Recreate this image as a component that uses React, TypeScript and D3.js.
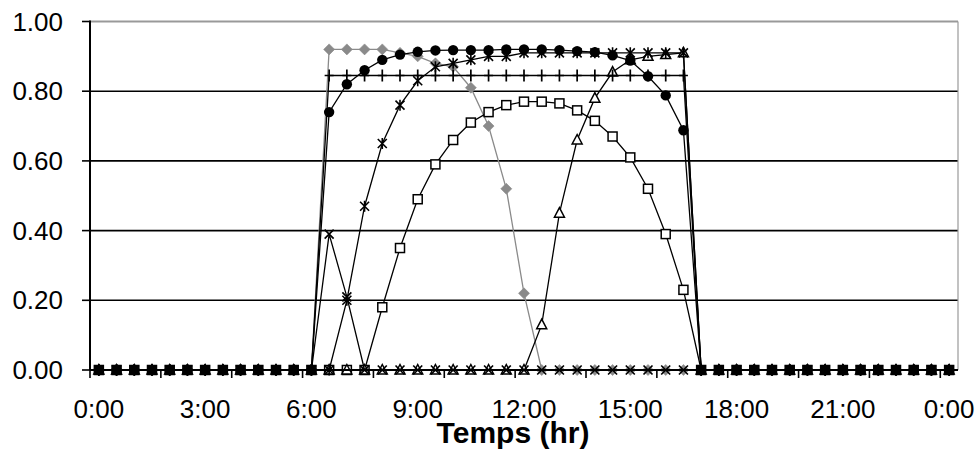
import React from "react";
import * as d3 from "d3";

const W = 980;
const H = 452;

// 49 half-hour categories 0:00 .. 24:00
const categories: string[] = d3.range(49).map((i) => `${Math.floor(i / 2) % 25}:${i % 2 ? "30" : "00"}`);
const tickLabels: { idx: number; label: string }[] = [
  { idx: 0, label: "0:00" },
  { idx: 6, label: "3:00" },
  { idx: 12, label: "6:00" },
  { idx: 18, label: "9:00" },
  { idx: 24, label: "12:00" },
  { idx: 30, label: "15:00" },
  { idx: 36, label: "18:00" },
  { idx: 42, label: "21:00" },
  { idx: 48, label: "0:00" },
];
const yTicks = [0, 0.2, 0.4, 0.6, 0.8, 1.0];

const Z13 = Array(13).fill(0);

const diamondSeries = [
  ...Z13,
  0.92, 0.92, 0.92, 0.92, 0.91, 0.9, 0.88, 0.87, 0.81, 0.7, 0.52, 0.22,
  ...Array(24).fill(0),
];
const squareSeries = [
  ...Array(16).fill(0),
  0.18, 0.35, 0.49, 0.59, 0.66, 0.71, 0.74, 0.76, 0.77, 0.77, 0.765, 0.745, 0.715, 0.67, 0.61, 0.52, 0.39, 0.23,
  ...Array(15).fill(0),
];
const triangleSeries = [
  ...Array(25).fill(0),
  0.13, 0.45, 0.66, 0.78, 0.855, 0.89, 0.9, 0.905, 0.91,
  ...Array(15).fill(0),
];
const xSeries = [...Z13, 0.39, 0.21, ...Array(34).fill(0)];
const starSeries = [
  ...Array(14).fill(0),
  0.2, 0.47, 0.65, 0.76, 0.83, 0.87, 0.88, 0.89, 0.9, 0.9, 0.91, 0.91, 0.91, 0.91, 0.91, 0.91, 0.91, 0.91, 0.91, 0.91,
  ...Array(15).fill(0),
];
const circleSeries = [
  ...Z13,
  0.74, 0.82, 0.86, 0.89, 0.905, 0.913, 0.917, 0.918, 0.918, 0.918, 0.92, 0.92, 0.92, 0.918, 0.915, 0.912, 0.903, 0.888, 0.843, 0.788, 0.688,
  ...Array(15).fill(0),
];
const plusSeries = [...Z13, ...Array(21).fill(0.845), ...Array(15).fill(0)];

type MarkerKind = "diamond" | "square" | "triangle" | "x" | "star" | "circle" | "plus";
const seriesList: { values: number[]; marker: MarkerKind; color: string }[] = [
  { values: diamondSeries, marker: "diamond", color: "#8a8a8a" },
  { values: squareSeries, marker: "square", color: "#000" },
  { values: triangleSeries, marker: "triangle", color: "#000" },
  { values: xSeries, marker: "x", color: "#000" },
  { values: starSeries, marker: "star", color: "#000" },
  { values: circleSeries, marker: "circle", color: "#000" },
  { values: plusSeries, marker: "plus", color: "#000" },
];

const left = 90;
const right = 958;
const top = 21.5;
const bottom = 370;

function Marker({ kind, x, y, color }: { kind: MarkerKind; x: number; y: number; color: string }) {
  switch (kind) {
    case "diamond":
      return <path d={`M${x},${y - 5.5}L${x + 5.5},${y}L${x},${y + 5.5}L${x - 5.5},${y}Z`} fill={color} stroke={color} strokeWidth={0.6} />;
    case "square":
      return <rect x={x - 4.5} y={y - 4.5} width={9} height={9} fill="#fff" stroke={color} strokeWidth={1.5} />;
    case "triangle":
      return <path d={`M${x},${y - 5.5}L${x + 5},${y + 4}L${x - 5},${y + 4}Z`} fill="#fff" stroke={color} strokeWidth={1.5} />;
    case "x":
      return <path d={`M${x - 4.5},${y - 4.5}L${x + 4.5},${y + 4.5}M${x - 4.5},${y + 4.5}L${x + 4.5},${y - 4.5}`} stroke={color} strokeWidth={1.7} />;
    case "star":
      return <path d={`M${x - 4.5},${y - 4.5}L${x + 4.5},${y + 4.5}M${x - 4.5},${y + 4.5}L${x + 4.5},${y - 4.5}M${x},${y - 5.5}L${x},${y + 5.5}`} stroke={color} strokeWidth={1.6} />;
    case "circle":
      return <circle cx={x} cy={y} r={5.2} fill={color} />;
    case "plus":
      return <path d={`M${x},${y - 6}L${x},${y + 6}M${x - 4.5},${y}L${x + 4.5},${y}`} stroke={color} strokeWidth={1.7} />;
  }
}

export default function App() {
  const xBand = d3.scaleBand<number>().domain(d3.range(categories.length)).range([left, right]).padding(0);
  const bw = xBand.bandwidth();
  const cx = (i: number) => (xBand(i) as number) + bw / 2;
  const y = d3.scaleLinear().domain([0, 1]).range([bottom, top]);
  const line = d3
    .line<number>()
    .x((_, i) => cx(i))
    .y((d) => y(d));

  const tickIdx = d3.range(0, categories.length, 4);
  const font = "'Liberation Sans', Arial, sans-serif";

  return (
    <svg width={W} height={H} style={{ position: "absolute", left: 0, top: 0, background: "#fff" }}>
      <rect x={0} y={0} width={W} height={H} fill="#fff" />
      {/* gridlines */}
      {yTicks.filter((t) => t > 0 && t < 1).map((t) => (
        <line key={t} x1={left} x2={right} y1={y(t)} y2={y(t)} stroke="#000" strokeWidth={1.6} />
      ))}
      {/* plot border top/right */}
      <line x1={left} x2={right} y1={y(1)} y2={y(1)} stroke="#999" strokeWidth={2} />
      <line x1={right} x2={right} y1={y(1)} y2={bottom} stroke="#999" strokeWidth={1.2} />
      {/* series */}
      {seriesList.map((s, si) => (
        <g key={si}>
          <path d={line(s.values) || ""} fill="none" stroke={s.color} strokeWidth={1.3} />
          {s.values.map((v, i) => (
            <Marker key={i} kind={s.marker} x={cx(i)} y={y(v)} color={s.color} />
          ))}
        </g>
      ))}
      {/* axes */}
      <line x1={left} x2={left} y1={y(1) - 1} y2={bottom} stroke="#000" strokeWidth={2} />
      <line x1={left} x2={right} y1={bottom} y2={bottom} stroke="#000" strokeWidth={2} />
      {yTicks.map((t) => (
        <g key={t}>
          <line x1={left - 8} x2={left} y1={y(t)} y2={y(t)} stroke="#000" strokeWidth={1.6} />
          <text x={63} y={y(t)} dy="0.35em" textAnchor="end" fontFamily={font} fontSize={26} fill="#000">
            {t.toFixed(2)}
          </text>
        </g>
      ))}
      {tickIdx.map((i) => (
        <line key={i} x1={xBand(i) as number} x2={xBand(i) as number} y1={bottom} y2={bottom + 8} stroke="#000" strokeWidth={1.6} />
      ))}
      {tickLabels.map((t) => (
        <text key={t.idx} x={cx(t.idx)} y={418} textAnchor="middle" fontFamily={font} fontSize={26} fill="#000">
          {t.label}
        </text>
      ))}
      <text x={513} y={443} textAnchor="middle" fontFamily={font} fontSize={30} fontWeight="bold" fill="#000">
        Temps (hr)
      </text>
    </svg>
  );
}
